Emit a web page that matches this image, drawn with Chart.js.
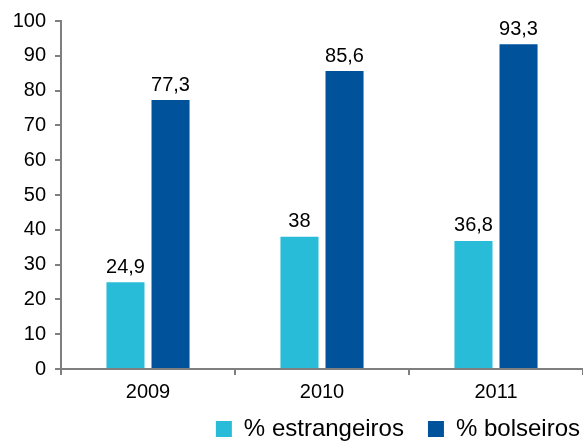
<!DOCTYPE html>
<html>
<head>
<meta charset="utf-8">
<script src="https://cdn.jsdelivr.net/npm/chart.js@4/dist/chart.umd.min.js"></script>
<style>
  html, body { margin: 0; padding: 0; background: #fff; }
  #wrap { width: 583px; height: 441px; }
</style>
</head>
<body>
<div id="wrap"><canvas id="chart" width="583" height="441"></canvas></div>
<script>
// data
var years = ['2009', '2010', '2011'];
var estrangeiros = [24.9, 38, 36.8];
var bolseiros = [77.3, 85.6, 93.3];
var yTicks = [0, 10, 20, 30, 40, 50, 60, 70, 80, 90, 100];

var FONT = "'Liberation Sans', Arial, Helvetica, sans-serif";
var axisGrey = '#7f7f7f';

// value labels above each bar, comma as decimal mark
var barValues = {
    id: 'barValues',
    afterDatasetsDraw: function(chart) {
        var ctx = chart.ctx;
        ctx.save();
        ctx.font = '20px ' + FONT;
        ctx.fillStyle = '#000';
        ctx.textAlign = 'center';
        ctx.textBaseline = 'bottom';
        chart.data.datasets.forEach(function(ds, i) {
            var meta = chart.getDatasetMeta(i);
            meta.data.forEach(function(bar, j) {
                var txt = String(ds.data[j]).replace('.', ',');
                ctx.fillText(txt, bar.x, bar.y - 5);
            });
        });
        ctx.restore();
    }
};

// the x box is squeezed so the legend sits close; let its labels hang below it.
// also push the legend row flush with the right edge (drop its trailing padding)
var layoutTweaks = {
    id: 'layoutTweaks',
    afterLayout: function(chart) {
        chart.scales.x.bottom = chart.height;
        chart.legend.right = chart.width + 21;
    }
};

new Chart(document.getElementById('chart'), {
    type: 'bar',
    data: {
        labels: years,
        datasets: [
            {
                label: '% estrangeiros',
                data: estrangeiros,
                backgroundColor: '#28bcd8',
                borderWidth: 0
            },
            {
                label: '% bolseiros',
                data: bolseiros,
                backgroundColor: '#00529b',
                borderWidth: 0
            }
        ]
    },
    options: {
        responsive: false,
        devicePixelRatio: 1,
        animation: false,
        categoryPercentage: 0.518,
        barPercentage: 0.844,
        layout: { padding: { top: 19, right: 0, left: 0, bottom: -10 } },
        plugins: {
            legend: {
                position: 'bottom',
                align: 'end',
                labels: {
                    font: { family: FONT, size: 24 },
                    color: '#000',
                    boxWidth: 16,
                    boxHeight: 16,
                    padding: 24
                }
            },
            tooltip: { enabled: false }
        },
        scales: {
            x: {
                afterFit: function(scale) { scale.height = 24; },
                grid: {
                    offset: true,
                    drawOnChartArea: false,
                    tickLength: 6,
                    tickColor: axisGrey,
                    lineWidth: 2
                },
                border: { color: axisGrey, width: 2 },
                ticks: {
                    font: { family: FONT, size: 20 },
                    color: '#000',
                    padding: 5
                }
            },
            y: {
                min: 0,
                max: 100,
                afterBuildTicks: function(scale) {
                    scale.ticks = yTicks.map(function(v) { return { value: v }; });
                },
                afterFit: function(scale) { scale.width = 61; },
                grid: {
                    drawOnChartArea: false,
                    tickLength: 6,
                    tickColor: axisGrey,
                    lineWidth: 2
                },
                border: { color: axisGrey, width: 2 },
                ticks: {
                    font: { family: FONT, size: 20 },
                    color: '#000',
                    padding: 9
                }
            }
        }
    },
    plugins: [barValues, layoutTweaks]
});
</script>
</body>
</html>
